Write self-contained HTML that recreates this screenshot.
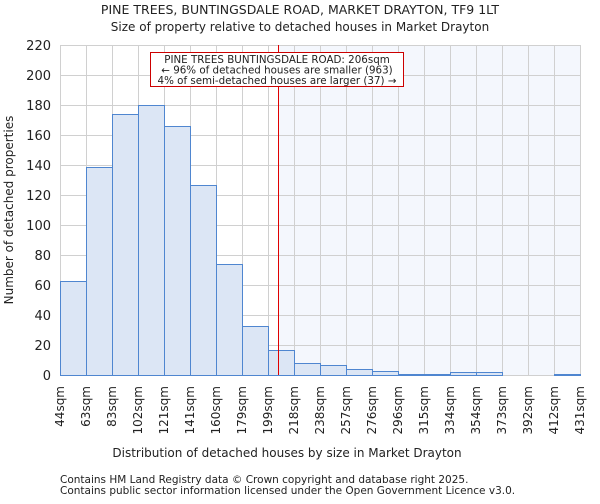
<!DOCTYPE html>
<html><head><meta charset="utf-8"><style>
body{margin:0;background:#fff;font-family:"DejaVu Sans","Liberation Sans",sans-serif}
svg text{font-family:"DejaVu Sans","Liberation Sans",sans-serif;fill:#222}
</style></head><body>
<svg id="c" width="600" height="500" xmlns="http://www.w3.org/2000/svg">
<text x="300" y="14" text-anchor="middle" font-size="12.5">PINE TREES, BUNTINGSDALE ROAD, MARKET DRAYTON, TF9 1LT</text>
<text x="300" y="31" text-anchor="middle" font-size="12">Size of property relative to detached houses in Market Drayton</text>
<g id="plot"></g>
<text x="287" y="457" text-anchor="middle" font-size="12">Distribution of detached houses by size in Market Drayton</text>
<text transform="translate(13,210) rotate(-90)" text-anchor="middle" font-size="12">Number of detached properties</text>
<text x="60" y="483" font-size="10.5">Contains HM Land Registry data © Crown copyright and database right 2025.</text>
<text x="60" y="494" font-size="10.5">Contains public sector information licensed under the Open Government Licence v3.0.</text>
</svg>
<script>
const categories=["44sqm","63sqm","83sqm","102sqm","121sqm","141sqm","160sqm","179sqm","199sqm","218sqm","238sqm","257sqm","276sqm","296sqm","315sqm","334sqm","354sqm","373sqm","392sqm","412sqm","431sqm"];
const counts=[63,139,174,180,166,127,74,33,17,8,7,4,3,1,1,2,2,0,0,1];
const yTicks=[0,20,40,60,80,100,120,140,160,180,200,220];
const binStart=[44,63,83,102,121,141,160,179,199,218,238,257,276,296,315,334,354,373,392,412];
const propertySize=206;
const NS="http://www.w3.org/2000/svg";
const L=60,R=580,T=45,B=375,yMax=220;
const bw=(R-L)/counts.length;
const y=v=>B-(B-T)*v/yMax;
const xi=i=>L+i*bw;
const xv=v=>{let i=binStart.length-1;for(let k=0;k<binStart.length;k++){if(v<binStart[k]){i=k-1;break;}}const hi=i+1<binStart.length?binStart[i+1]:binStart[i]+19;return xi(i)+bw*(v-binStart[i])/(hi-binStart[i]);};
const g=document.getElementById('plot');
function mk(t,a){const e=document.createElementNS(NS,t);for(const k in a)e.setAttribute(k,a[k]);g.appendChild(e);return e;}
const px=Math.round(xv(propertySize))+0.5;
let e=mk('rect',{x:px,y:T,width:R-px,height:B-T,fill:'#f4f7fd'});


for(let i=0;i<=counts.length;i++){e=mk('line',{x1:xi(i)+0.5,x2:xi(i)+0.5,y1:T,y2:B,stroke:'#d0d0d0','stroke-width':1});

}
yTicks.forEach(t=>{e=mk('line',{x1:L,x2:R,y1:y(t)+0.5,y2:y(t)+0.5,stroke:'#d0d0d0','stroke-width':1});


e=mk('text',{x:L-9,y:y(t)+5,'text-anchor':'end','font-size':'13'});e.textContent=t;

});
counts.forEach((c,i)=>{e=mk('rect',{x:xi(i)+0.5,y:Math.round(y(c))+0.5,width:bw,height:B-Math.round(y(c)),fill:'#dce6f5',stroke:'#4f86d0','stroke-width':1});

});
categories.forEach((c,i)=>{const xx=xi(i)+4;e=mk('text',{transform:`translate(${xx},386) rotate(-90)`,'text-anchor':'end','font-size':'12'});e.textContent=c;

});
e=mk('line',{x1:px,x2:px,y1:T,y2:B,stroke:'#e00000','stroke-width':1});


e=mk('rect',{x:150.5,y:52.5,width:253,height:34,fill:'#fff',stroke:'#cc0000','stroke-width':1});


["PINE TREES BUNTINGSDALE ROAD: 206sqm","← 96% of detached houses are smaller (963)","4% of semi-detached houses are larger (37) →"].forEach((s,i)=>{e=mk('text',{x:277,y:63+i*10.5,'text-anchor':'middle','font-size':'10.3'});e.textContent=s;

});
</script>
</body></html>
